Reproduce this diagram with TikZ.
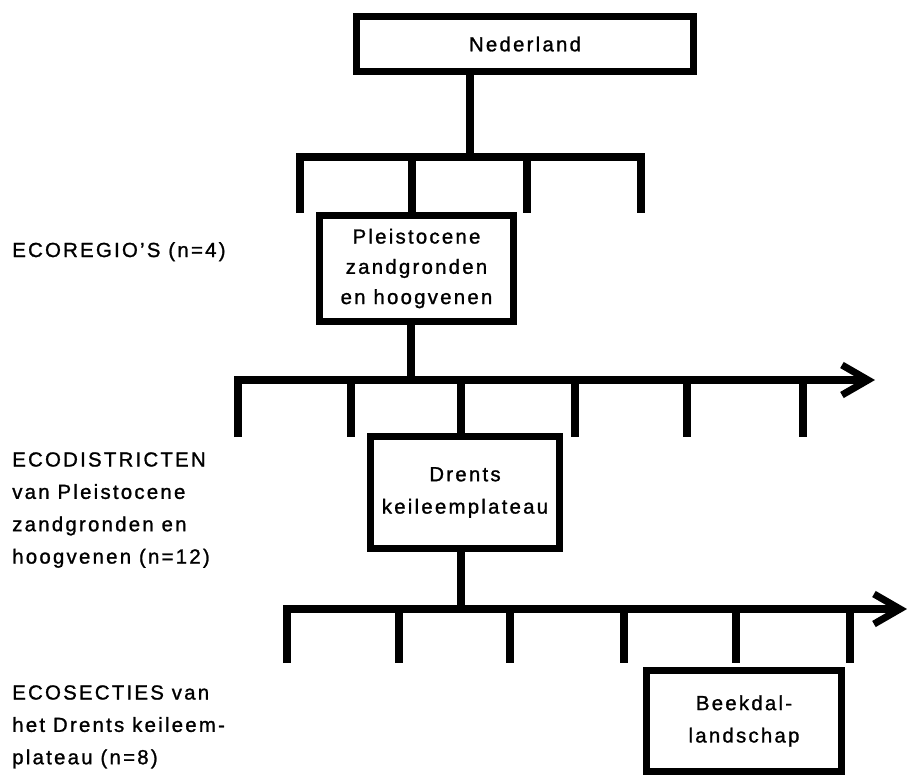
\documentclass[tikz,border=0pt]{standalone}
\usepackage{fontspec}
\setmainfont{Liberation Sans}[LetterSpace=11, FakeBold=1.2]
\usetikzlibrary{arrows.meta}

\begin{document}
\begin{tikzpicture}[
  x=0.025cm, y=-0.025cm,
  font=\fontsize{14.5}{23}\selectfont,
  box/.style={rectangle, draw, line width=5pt, align=center, inner sep=0pt},
  ln/.style={line width=5pt, line join=miter, line cap=butt},
  arr/.style={ln, -{Straight Barb[length=6.5mm, width=7.5mm]}},
  lbl/.style={align=left, inner sep=0pt}
]
\useasboundingbox (0,0) rectangle (908,778);

% boxes
\node[box, minimum width=8.425cm, minimum height=1.375cm] (ned) at (525,44) {Nederland};
\node[box, minimum width=4.85cm, minimum height=2.65cm,
  font=\fontsize{14.5}{21.5}\selectfont] (pleist) at (416.5,268.5)
  {Pleistocene\\zandgronden\\en hoogvenen};
\node[box, minimum width=4.725cm, minimum height=2.8cm] (drents) at (465,492.5)
  {Drents\\keileemplateau};
\node[box, minimum width=4.875cm, minimum height=2.525cm] (beek) at (744,721)
  {Beekdal-\\landschap};

% level labels
\node[lbl, anchor=base west] (lregio) at (12,257) {ECOREGIO'S (n=4)};
\node[lbl, anchor=north west] (ldistr) at (12,452)
  {ECODISTRICTEN\\van Pleistocene\\zandgronden en\\hoogvenen (n=12)};
\node[lbl, anchor=north west] (lsect) at (12,685)
  {ECOSECTIES van\\het Drents keileem-\\plateau (n=8)};

% ecoregions
\coordinate (b1) at (470,157);
\draw[ln] (ned.south -| b1) -- (b1);
\draw[ln] (300,213) -- (300,157) -- (641,157) -- (641,213);
\foreach \x in {412,527}
  \draw[ln] (\x,157) -- (\x,213);

% ecodistricts
\coordinate (b2) at (411,380);
\draw[ln] (pleist.south -| b2) -- (b2);
\draw[arr] (238,437) -- (238,380) -- (875,380);
\foreach \x in {351,461,575,687,803}
  \draw[ln] (\x,380) -- (\x,437);

% ecosections
\coordinate (b3) at (461,609);
\draw[ln] (drents.south -| b3) -- (b3);
\draw[arr] (287,663) -- (287,609) -- (907,609);
\foreach \x in {399,510,624,736,850}
  \draw[ln] (\x,609) -- (\x,663);
\end{tikzpicture}
\end{document}
